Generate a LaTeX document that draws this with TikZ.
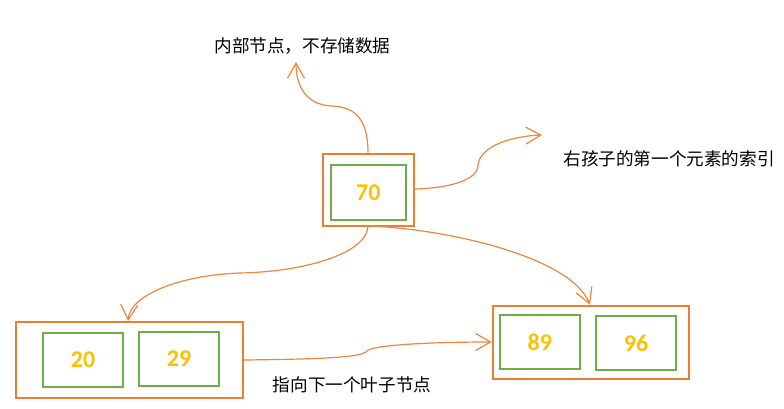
\documentclass[tikz,border=0pt]{standalone}
\usepackage{fontspec}
\usepackage{tikz}
\usetikzlibrary{arrows.meta}
\newfontfamily\cjk{Noto Sans CJK SC}
\newfontfamily\numfont{Carlito}
\definecolor{boxorange}{HTML}{ED7D31}
\definecolor{keygreen}{HTML}{70AD47}
\definecolor{keygold}{HTML}{FFC000}
\definecolor{linkorange}{HTML}{F0853F}

\begin{document}
\begin{tikzpicture}[
  x=1pt, y=-1pt,
  >={Straight Barb[length=15pt, width=17pt]},
  outerbox/.style={draw=boxorange, line width=2pt, inner sep=0pt},
  keybox/.style={draw=keygreen, line width=2pt, inner sep=0pt,
    minimum width=80.5pt, minimum height=54.5pt,
    text=keygold, font=\numfont\bfseries\fontsize{24}{24}\selectfont},
  link/.style={->, linkorange, line width=1.2pt},
  note/.style={font=\cjk\fontsize{17.6}{17.6}\selectfont},
  ]

  \useasboundingbox (0, 0) rectangle (784, 408);

  % Internal node
  \node[outerbox, minimum width=91pt, minimum height=72pt] (top) at (368, 189.5) {};
  \node[keybox, minimum width=75pt, minimum height=55pt] (k70) at (368.3, 192.3) {70};

  % Left leaf
  \node[outerbox, minimum width=227pt, minimum height=76pt] (leafL) at (129.5, 360) {};
  \node[keybox] (k20) at (83, 360) {20};
  \node[keybox] (k29) at (179, 359) {29};

  % Right leaf
  \node[outerbox, minimum width=196pt, minimum height=73.5pt] (leafR) at (590.8, 342.5) {};
  \node[keybox] (k89) at (539.8, 342) {89};
  \node[keybox] (k96) at (636, 343) {96};

  % Notes
  \node[note] (noteTop) at (302.5, 46) {内部节点，不存储数据};
  \node[note] (noteRight) at (669, 159) {右孩子的第一个元素的索引};
  \node[note] (noteLeaf) at (352, 385) {指向下一个叶子节点};

  % Free ends of the note arrows
  \coordinate (tipTop) at (296, 62);
  \coordinate (tipRight) at (542, 135);

  % Arrows
  \draw[link] (top.north)
    .. controls (368, 120) and (356, 107) .. (332, 106)
    .. controls (306, 105) and (296, 86) .. (tipTop);
  \draw[link] (top.east |- 0, 189)
    .. controls (450, 188) and (478, 180) .. (478, 165)
    .. controls (480, 146) and (512, 136) .. (tipRight);
  \draw[link] (top.south)
    .. controls (366, 255) and (300, 272) .. (240, 273)
    .. controls (180, 275) and (130, 295) .. (128, 321);
  \draw[link] (367, 226)
    .. controls (440, 228) and (570, 255) .. (leafR.north -| 590, 0);
  \draw[link] (leafL.east)
    .. controls (330, 359) and (362, 357) .. (367, 351)
    .. controls (372, 345) and (430, 342) .. (leafR.west |- 0, 342);

\end{tikzpicture}
\end{document}
